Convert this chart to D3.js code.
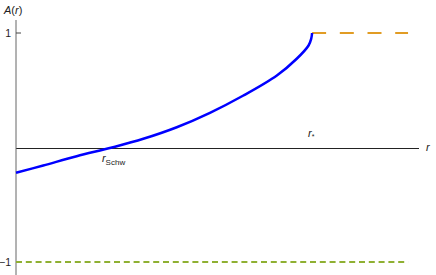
<!DOCTYPE html>
<html>
<head>
<meta charset="utf-8">
<script src="https://cdn.jsdelivr.net/npm/d3@7"></script>
<style>
  body { margin: 0; background: #fff; }
  svg { display: block; }
  text { font-family: "Liberation Sans", Arial, sans-serif; font-size: 11px; fill: #222; }
</style>
</head>
<body>
<div id="chart"></div>
<script>
// A(r) inside the star (blue)
var rValues = [0, 0.092, 0.205, 0.324, 0.430, 0.543, 0.655, 0.768, 0.881, 0.948, 0.988, 0.997, 1.0];
var aValues = [-0.221, -0.157, -0.076, 0, 0.076, 0.177, 0.303, 0.454, 0.629, 0.775, 0.891, 0.950, 1.0];
// outside branch (orange, dashed) and the -1 line (green, dashed)
var outerR = [1.0, 1.324];
var outerA = [1, 1];
var lowerR = [0, 1.324];
var lowerA = [-1, -1];
var yTicks = [1, -1];
var rSchw = 0.324, rStar = 1.0;

var w = 436, h = 275;
var svg = d3.select("#chart").append("svg").attr("width", w).attr("height", h);

var x = d3.scaleLinear().domain([0, 1.361]).range([16, 419]);
var y = d3.scaleLinear().domain([-1, 1]).range([262, 33]);

// axes
svg.append("line")
  .attr("x1", x(0)).attr("x2", x(1.361))
  .attr("y1", Math.round(y(0)) + 0.5).attr("y2", Math.round(y(0)) + 0.5)
  .style("stroke", "#222").style("stroke-width", 1);
svg.append("line")
  .attr("x1", x(0)).attr("x2", x(0))
  .attr("y1", 20).attr("y2", h)
  .style("stroke", "#666").style("stroke-width", 1);

yTicks.forEach(function(t) {
  svg.append("line")
    .attr("x1", x(0)).attr("x2", x(0) + 5)
    .attr("y1", y(t)).attr("y2", y(t))
    .style("stroke", "#444").style("stroke-width", 1);
  svg.append("text")
    .attr("x", x(0) - 5).attr("y", y(t) + 4)
    .attr("text-anchor", "end")
    .style("font-size", "10.5px")
    .text(t < 0 ? "\u2212" + (-t) : t);
});

var line = d3.line()
  .x(function(d) { return x(d[0]); })
  .y(function(d) { return y(d[1]); });

svg.append("path")
  .datum(d3.zip(lowerR, lowerA))
  .attr("d", line)
  .style("fill", "none")
  .style("stroke", "#8fb032")
  .style("stroke-width", 2)
  .style("stroke-dasharray", "6,3.8");

svg.append("path")
  .datum(d3.zip(outerR, outerA))
  .attr("d", line)
  .style("fill", "none")
  .style("stroke", "#e19c24")
  .style("stroke-width", 2)
  .style("stroke-dasharray", "14,13.7");

svg.append("path")
  .datum(d3.zip(rValues, aValues))
  .attr("d", d3.line()
    .x(function(d) { return x(d[0]); })
    .y(function(d) { return y(d[1]); })
    .curve(d3.curveCatmullRom.alpha(0.5)))
  .style("fill", "none")
  .style("stroke", "#0000ff")
  .style("stroke-width", 2.5);

// labels
var lab = svg.append("text").attr("x", 4).attr("y", 14);
lab.append("tspan").style("font-style", "italic").text("A");
lab.append("tspan").text("(");
lab.append("tspan").style("font-style", "italic").text("r");
lab.append("tspan").text(")");

svg.append("text").attr("x", 426).attr("y", 151)
  .style("font-style", "italic").text("r");

var ls = svg.append("text").attr("x", x(rSchw) - 10).attr("y", 162);
ls.append("tspan").style("font-style", "italic").text("r");
ls.append("tspan").attr("dy", 3).style("font-size", "8px").text("Schw");

var lstar = svg.append("text").attr("x", x(rStar) - 4).attr("y", 137);
lstar.append("tspan").style("font-style", "italic").text("r");
lstar.append("tspan").attr("dy", 2).style("font-size", "7px").text("*");
</script>
</body>
</html>
